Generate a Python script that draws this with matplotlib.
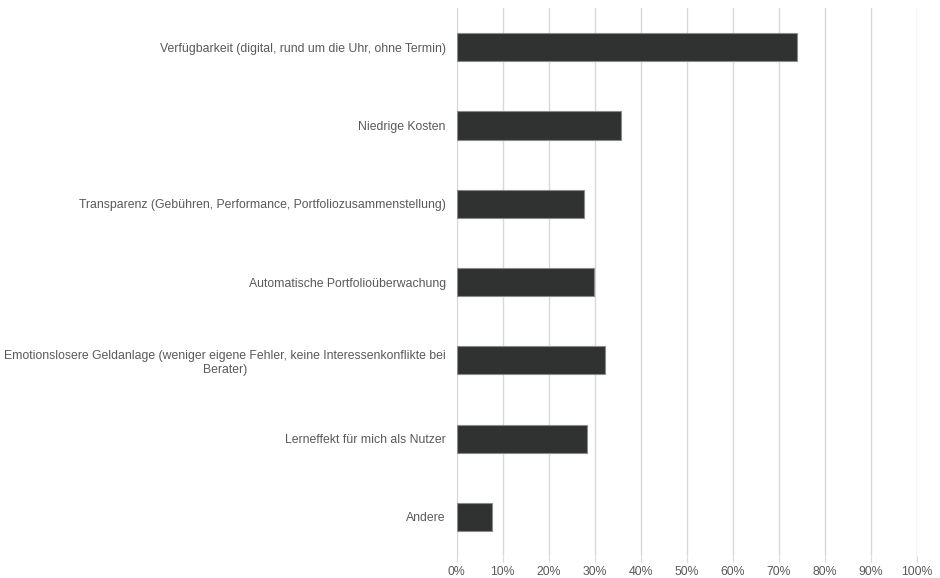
import matplotlib
matplotlib.use("Agg")
import matplotlib.pyplot as plt
from matplotlib.ticker import MultipleLocator, FuncFormatter

categories = [
    "Verfügbarkeit (digital, rund um die Uhr, ohne Termin)",
    "Niedrige Kosten",
    "Transparenz (Gebühren, Performance, Portfoliozusammenstellung)",
    "Automatische Portfolioüberwachung",
    "Emotionslosere Geldanlage (weniger eigene Fehler, keine Interessenkonflikte bei\nBerater)",
    "Lerneffekt für mich als Nutzer",
    "Andere",
]
values = [74.0, 35.7, 27.6, 29.9, 32.2, 28.2, 7.7]

plt.rcParams["font.family"] = ["Liberation Sans", "DejaVu Sans"]

fig = plt.figure(figsize=(9.4, 5.78), dpi=100)
ax = fig.add_axes([0.486, 0.038, 0.4895, 0.948])

ypos = list(range(len(categories)))
ax.barh(ypos, values, height=0.36, color="#303231", edgecolor="#8a8a8a",
        linewidth=0.8, zorder=3)

ax.set_xlim(0, 100)
ax.set_ylim(len(categories) - 0.5, -0.5)
ax.xaxis.set_major_locator(MultipleLocator(10))
ax.xaxis.set_major_formatter(FuncFormatter(lambda v, p: f"{v:.0f}%"))
ax.grid(axis="x", color="#d9d9d9", linewidth=1.0, zorder=0)
ax.set_axisbelow(True)

ax.set_yticks(ypos)
ax.set_yticklabels(categories, multialignment="center")
ax.tick_params(axis="y", length=0, pad=8, labelsize=8.8, labelcolor="#595959")
ax.tick_params(axis="x", length=4, color="#d9d9d9", pad=3, labelsize=8.8,
               labelcolor="#595959")

for s in ["top", "right", "bottom"]:
    ax.spines[s].set_visible(False)
ax.spines["left"].set_color("#d9d9d9")

fig.savefig("out.png", dpi=100, facecolor="white")
